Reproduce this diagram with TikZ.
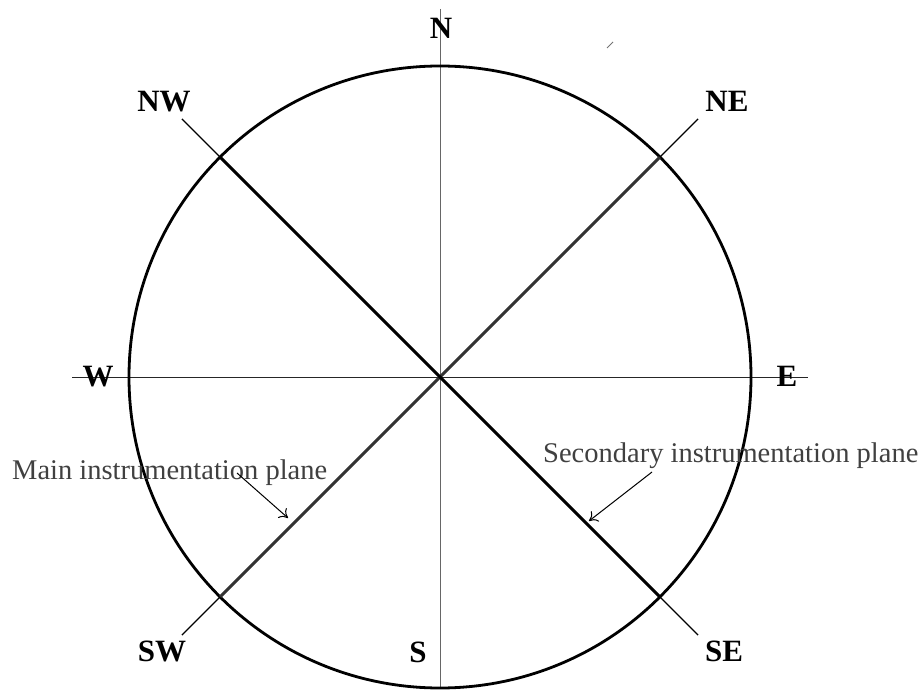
\documentclass[tikz,border=0pt]{standalone}
\usepackage{fontspec}
\setmainfont{Liberation Serif}
\usetikzlibrary{arrows.meta}
\begin{document}
\begin{tikzpicture}[x=1pt,y=1pt,
  dirlabel/.style={font=\fontsize{31}{36}\selectfont\bfseries, inner sep=0pt, anchor=base},
  planelabel/.style={font=\fontsize{28.5}{34}\selectfont, text=black!75, inner sep=0pt, anchor=base west},
  rim/.style={line width=2.8pt},
  planeA/.style={line width=3pt, black!80},
  planeB/.style={line width=3pt, black},
  ext/.style={line width=1.2pt},
  vaxis/.style={line width=1pt, black!60},
  haxis/.style={line width=0.9pt, black!85},
  pointer/.style={line width=1pt, -{To[length=8pt,width=13pt]}}]
\useasboundingbox (0,0) rectangle (924,689);
\coordinate (O) at (440,312);
\path (O) ++(45:311) coordinate (cNE) ++(45:54) coordinate (oNE);
\path (O) ++(135:311) coordinate (cNW) ++(135:54) coordinate (oNW);
\path (O) ++(225:311) coordinate (cSW) ++(225:54) coordinate (oSW);
\path (O) ++(315:311) coordinate (cSE) ++(315:54) coordinate (oSE);
\coordinate (vTop) at (440,680);
\coordinate (vBot) at (440,0);
\coordinate (hL) at (72,312);
\coordinate (hR) at (808,312);
% axes
\draw[vaxis] (vTop) -- (vBot);
\draw[haxis] (hL) -- (hR);
% circle
\draw[rim] (O) circle[radius=311];
% planes
\draw[planeA] (cSW) -- (cNE);
\draw[planeB] (cNW) -- (cSE);
\draw[ext] (cNE) -- (oNE);
\draw[ext] (cNW) -- (oNW);
\draw[ext] (cSW) -- (oSW);
\draw[ext] (cSE) -- (oSE);
% stray mark
\coordinate (m1) at (607,641);
\coordinate (m2) at (613,647);
\draw[line width=1pt, black!55] (m1) -- (m2);
% direction labels
\node[dirlabel] (N) at (441,650) {N};
\node[dirlabel] (S) at (418,27) {S};
\node[dirlabel] (W) at (98,302) {W};
\node[dirlabel] (E) at (787,302) {E};
\node[dirlabel] (NW) at (164,577) {NW};
\node[dirlabel] (NE) at (727,577) {NE};
\node[dirlabel] (SW) at (162,28) {SW};
\node[dirlabel] (SE) at (724,28) {SE};
% plane labels
\node[planelabel] (main) at (12,210) {Main instrumentation plane};
\node[planelabel] (sec) at (543,226) {Secondary instrumentation plane};
\coordinate (mainA) at (237,216);
\coordinate (mainB) at (288,171);
\coordinate (secA) at (652,217);
\coordinate (secB) at (589,168);
\draw[pointer] (mainA) -- (mainB);
\draw[pointer] (secA) -- (secB);
\end{tikzpicture}
\end{document}
